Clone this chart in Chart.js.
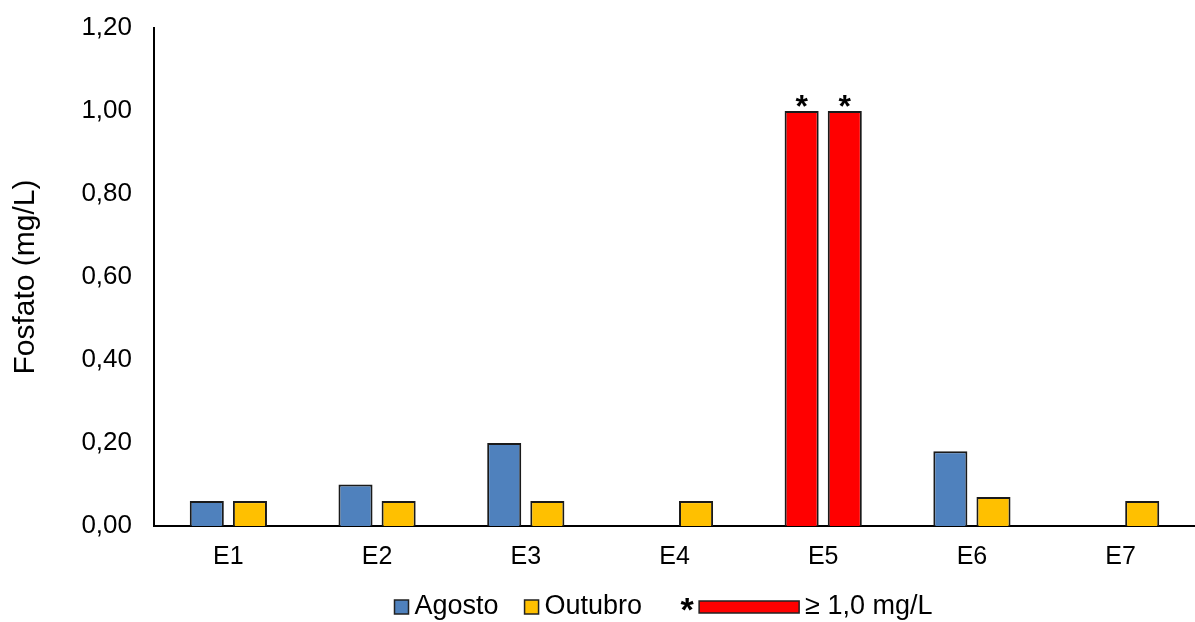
<!DOCTYPE html>
<html>
<head>
<meta charset="utf-8">
<script src="https://cdn.jsdelivr.net/npm/chart.js@4.4.0/dist/chart.umd.min.js"></script>
<style>
  html, body { margin: 0; padding: 0; background: #fff; }
  #wrap { width: 1195px; height: 622px; position: relative; }
</style>
</head>
<body>
<div id="wrap"><canvas id="myChart"></canvas></div>
<script>
// data
var stations = ['E1', 'E2', 'E3', 'E4', 'E5', 'E6', 'E7'];
var agosto = [0.06, 0.10, 0.20, null, 1.00, 0.18, null];
var outubro = [0.06, 0.06, 0.06, 0.06, 1.00, 0.07, 0.06];
var yTicks = [0, 0.2, 0.4, 0.6, 0.8, 1.0, 1.2];
var limitLabel = '≥ 1,0 mg/L';
var limit = 1.0;

var blue = '#4f81bd';
var yellow = '#ffc000';
var red = '#ff0000';
var font = 'Liberation Sans, Arial, sans-serif';

function colorsFor(values, base) {
  return values.map(function (v) { return v !== null && v >= limit ? red : base; });
}

// stars on top of bars that reach the limit
var starPlugin = {
  id: 'stars',
  afterDatasetsDraw: function (chart) {
    var ctx = chart.ctx;
    ctx.save();
    ctx.fillStyle = '#000';
    ctx.font = 'bold 32px ' + font;
    ctx.textAlign = 'center';
    ctx.textBaseline = 'alphabetic';
    chart.data.datasets.forEach(function (ds, i) {
      var meta = chart.getDatasetMeta(i);
      ds.data.forEach(function (v, j) {
        if (v !== null && v >= limit) {
          var el = meta.data[j];
          ctx.fillText('*', el.x, el.y + 6);
        }
      });
    });
    ctx.restore();
  }
};

// legend drawn by hand: the red item has a long box and a star before it
var legendPlugin = {
  id: 'myLegend',
  afterDraw: function (chart) {
    var ctx = chart.ctx;
    var y = 607;
    var size = 27;
    ctx.save();
    ctx.font = size + 'px ' + font;
    ctx.textBaseline = 'middle';
    var items = [
      { star: false, w: 14, color: blue, text: 'Agosto', gap: 0 },
      { star: false, w: 14, color: yellow, text: 'Outubro', gap: 26 },
      { star: true, w: 100, color: red, text: limitLabel, gap: 43 }
    ];
    var starW = 14, gapBox = 6;
    var total = 0;
    items.forEach(function (it) {
      it.tw = ctx.measureText(it.text).width;
      total += it.gap + (it.star ? starW : 0) + it.w + gapBox + it.tw;
    });
    var ca = chart.chartArea;
    var x = (ca.left + ca.right) / 2 - total / 2 - 11;
    items.forEach(function (it) {
      x += it.gap;
      if (it.star) {
        ctx.font = 'bold 34px ' + font;
        ctx.fillStyle = '#000';
        ctx.textAlign = 'center';
        ctx.fillText('*', x + 2, y + 5);
        ctx.font = size + 'px ' + font;
        x += starW;
      }
      var h = it.star ? 12 : 14;
      ctx.fillStyle = it.color;
      ctx.fillRect(x, y - h / 2, it.w, h);
      ctx.strokeStyle = '#222';
      ctx.lineWidth = 1.5;
      ctx.strokeRect(x, y - h / 2, it.w, h);
      x += it.w + gapBox;
      ctx.fillStyle = '#000';
      ctx.textAlign = 'left';
      ctx.fillText(it.text, x, y);
      x += it.tw;
    });
    ctx.restore();
  }
};

var ctx = document.getElementById('myChart');
var chart = new Chart(ctx, {
  type: 'bar',
  data: {
    labels: stations,
    datasets: [
      {
        label: 'Agosto',
        data: agosto,
        backgroundColor: colorsFor(agosto, blue),
        borderColor: '#1a1a1a',
        borderWidth: 2,
        categoryPercentage: 0.58,
        barPercentage: 0.79
      },
      {
        label: 'Outubro',
        data: outubro,
        backgroundColor: colorsFor(outubro, yellow),
        borderColor: '#1a1a1a',
        borderWidth: 2,
        categoryPercentage: 0.58,
        barPercentage: 0.79
      }
    ]
  },
  options: {
    responsive: true,
    maintainAspectRatio: false,
    animation: false,
    layout: { padding: { top: 28, right: 0, bottom: 50, left: 0 } },
    plugins: {
      legend: { display: false },
      tooltip: { enabled: false }
    },
    scales: {
      x: {
        grid: { display: false, drawTicks: false },
        border: { display: true, color: '#000', width: 2 },
        ticks: { color: '#000', font: { family: font, size: 25 }, padding: 16 },
        afterFit: function (scale) { scale.height = 46; }
      },
      y: {
        min: 0,
        max: 1.2,
        afterBuildTicks: function (scale) {
          scale.ticks = yTicks.map(function (v) { return { value: v }; });
        },
        grid: { display: false, drawTicks: false },
        border: { display: true, color: '#000', width: 2 },
        ticks: {
          color: '#000',
          font: { family: font, size: 26 },
          padding: 22,
          callback: function (v) { return v.toFixed(2).replace('.', ','); }
        },
        title: {
          display: true,
          text: 'Fosfato (mg/L)',
          color: '#000',
          font: { family: font, size: 30 },
          padding: { top: 8, bottom: 0 }
        },
        afterFit: function (scale) {
          scale.width = 154;
          scale.paddingTop = 0;
          scale.paddingBottom = 0;
        }
      }
    }
  },
  plugins: [starPlugin, legendPlugin]
});
</script>
</body>
</html>
